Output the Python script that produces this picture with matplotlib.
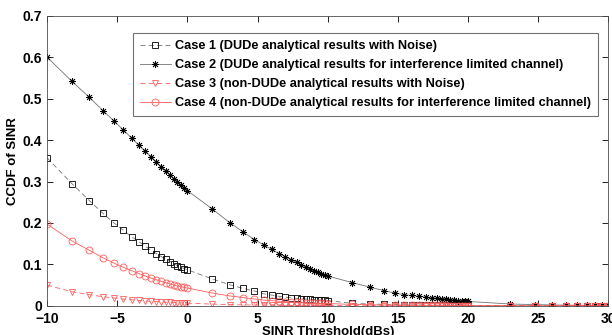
import numpy as np
import matplotlib.pyplot as plt

plt.rcParams['font.family'] = ['Liberation Sans', 'DejaVu Sans']
plt.rcParams['font.weight'] = 'bold'

# SINR threshold (dB)
sinr_db = [-10.00, -8.24, -6.99, -6.02, -5.23, -4.56, -3.98, -3.47, -3.01, -2.60,
           -2.22, -1.87, -1.55, -1.25, -0.97, -0.71, -0.46, -0.22, 0.00,
           1.76, 3.01, 3.98, 4.77, 5.44, 6.02, 6.53, 6.99, 7.40, 7.78,
           8.13, 8.45, 8.75, 9.03, 9.29, 9.54, 9.78, 10.00,
           11.76, 13.01, 13.98, 14.77, 15.44, 16.02, 16.53, 16.99, 17.40, 17.78,
           18.13, 18.45, 18.75, 19.03, 19.29, 19.54, 19.78, 20.00,
           23.01, 24.77, 26.02, 26.99, 27.78, 28.45, 29.03, 29.54, 30.00]

# Case 1: DUDe with noise
case1 = [0.357, 0.295, 0.254, 0.223, 0.200, 0.182, 0.167, 0.155, 0.144, 0.134,
         0.126, 0.119, 0.112, 0.107, 0.102, 0.097, 0.093, 0.090, 0.087,
         0.065, 0.051, 0.042, 0.036, 0.029, 0.026, 0.023, 0.021, 0.0195, 0.0182,
         0.0172, 0.0163, 0.0155, 0.0148, 0.0142, 0.0137, 0.0132, 0.0128,
         0.0060, 0.0045, 0.0037, 0.0032, 0.0028, 0.0025, 0.0023, 0.0021, 0.0019, 0.0018,
         0.0017, 0.0016, 0.0015, 0.0014, 0.0013, 0.0013, 0.0012, 0.0012,
         0.0005, 0.0004, 0.0003, 0.0003, 0.0002, 0.0002, 0.0002, 0.0001, 0.0001]

# Case 2: DUDe interference limited
case2 = [0.600, 0.542, 0.503, 0.471, 0.446, 0.424, 0.405, 0.388, 0.373, 0.360,
         0.347, 0.336, 0.326, 0.316, 0.307, 0.299, 0.291, 0.284, 0.278,
         0.234, 0.201, 0.178, 0.160, 0.147, 0.136, 0.126, 0.118, 0.111, 0.105,
         0.099, 0.094, 0.089, 0.085, 0.081, 0.078, 0.075, 0.072,
         0.056, 0.045, 0.037, 0.031, 0.027, 0.025, 0.023, 0.021, 0.019, 0.018,
         0.0165, 0.0155, 0.0145, 0.0135, 0.0127, 0.0120, 0.0113, 0.0106,
         0.0045, 0.0030, 0.0022, 0.0018, 0.0015, 0.0013, 0.0011, 0.0010, 0.0009]

# Case 3: non-DUDe with noise
case3 = [0.050, 0.034, 0.027, 0.022, 0.019, 0.0165, 0.0147, 0.0132, 0.0120, 0.0110,
         0.0102, 0.0095, 0.0089, 0.0084, 0.0079, 0.0075, 0.0071, 0.0068, 0.0065,
         0.0042, 0.0030, 0.0024, 0.0020, 0.0017, 0.0015, 0.0013, 0.0012, 0.0011, 0.0010,
         0.0009, 0.00085, 0.0008, 0.00075, 0.0007, 0.00066, 0.00063, 0.0006,
         0.0003, 0.00025, 0.0002, 0.00018, 0.00016, 0.00015, 0.00014, 0.00013, 0.00012, 0.00011,
         0.0001, 0.0001, 0.0001, 0.00009, 0.00009, 0.00008, 0.00008, 0.00008,
         0.00004, 0.00003, 0.00003, 0.00002, 0.00002, 0.00002, 0.00002, 0.00001, 0.00001]

# Case 4: non-DUDe interference limited
case4 = [0.197, 0.157, 0.134, 0.116, 0.103, 0.093, 0.085, 0.078, 0.072, 0.067,
         0.063, 0.059, 0.056, 0.053, 0.050, 0.048, 0.046, 0.0445, 0.043,
         0.031, 0.024, 0.020, 0.0165, 0.014, 0.0125, 0.0112, 0.0102, 0.0094, 0.0087,
         0.0081, 0.0076, 0.0071, 0.0067, 0.0064, 0.0061, 0.0058, 0.0055,
         0.0035, 0.0026, 0.0021, 0.0018, 0.0016, 0.0014, 0.0013, 0.0012, 0.0011, 0.0010,
         0.00095, 0.0009, 0.00085, 0.0008, 0.00076, 0.00072, 0.00069, 0.00066,
         0.0003, 0.0002, 0.00015, 0.00012, 0.0001, 0.00009, 0.00008, 0.00007, 0.00006]

labels = ['Case 1 (DUDe analytical results with Noise)',
          'Case 2 (DUDe analytical results for interference limited channel)',
          'Case 3 (non-DUDe analytical results with Noise)',
          'Case 4 (non-DUDe analytical results for interference limited channel)']

red = '#ff5c5c'

fig = plt.figure(figsize=(6.12, 3.35), dpi=100)
ax = fig.add_axes([0.077, 0.087, 0.917, 0.866])

ax.plot(sinr_db, case1, linestyle=(0, (6, 4)), color='0.45', lw=0.6,
        marker='s', ms=4, mfc='none', mec='black', mew=0.6, label=labels[0])
ax.plot(sinr_db, case2, linestyle='-', color='0.45', lw=0.6,
        marker=(8, 2, 0), ms=5, mec='black', mew=0.6, label=labels[1])
ax.plot(sinr_db, case3, linestyle=(0, (6, 4)), color=red, lw=0.6,
        marker='v', ms=4.5, mfc='none', mec=red, mew=0.6, label=labels[2])
ax.plot(sinr_db, case4, linestyle='-', color=red, lw=0.6,
        marker='o', ms=5, mfc='none', mec=red, mew=0.6, label=labels[3])

ax.set_xlim(-10, 30)
ax.set_ylim(0, 0.7)
ax.set_xticks(np.arange(-10, 31, 5))
ax.set_yticks(np.arange(0, 0.71, 0.1))
ax.set_yticklabels(['0', '0.1', '0.2', '0.3', '0.4', '0.5', '0.6', '0.7'])
ax.tick_params(direction='in', top=True, right=True, labelsize=10, length=4, width=0.6)
ax.tick_params(axis='x', pad=4.5)
for s in ax.spines.values():
    s.set_linewidth(0.6)
    s.set_color('0.3')

ax.set_xlabel('SINR Threshold(dBs)', fontsize=9.5, fontweight='bold', labelpad=0)
ax.set_ylabel('CCDF of SINR', fontsize=9.5, fontweight='bold', labelpad=3)

leg = ax.legend(loc='upper left', bbox_to_anchor=(0.153, 0.94), fontsize=9.2,
                frameon=True, fancybox=False, handlelength=2.4, handletextpad=0.3,
                borderpad=0.55, labelspacing=0.55, borderaxespad=0)
leg.get_frame().set_edgecolor('0.3')
leg.get_frame().set_linewidth(0.8)
for t in leg.get_texts():
    t.set_fontweight('bold')

fig.savefig('out.png', dpi=100)
